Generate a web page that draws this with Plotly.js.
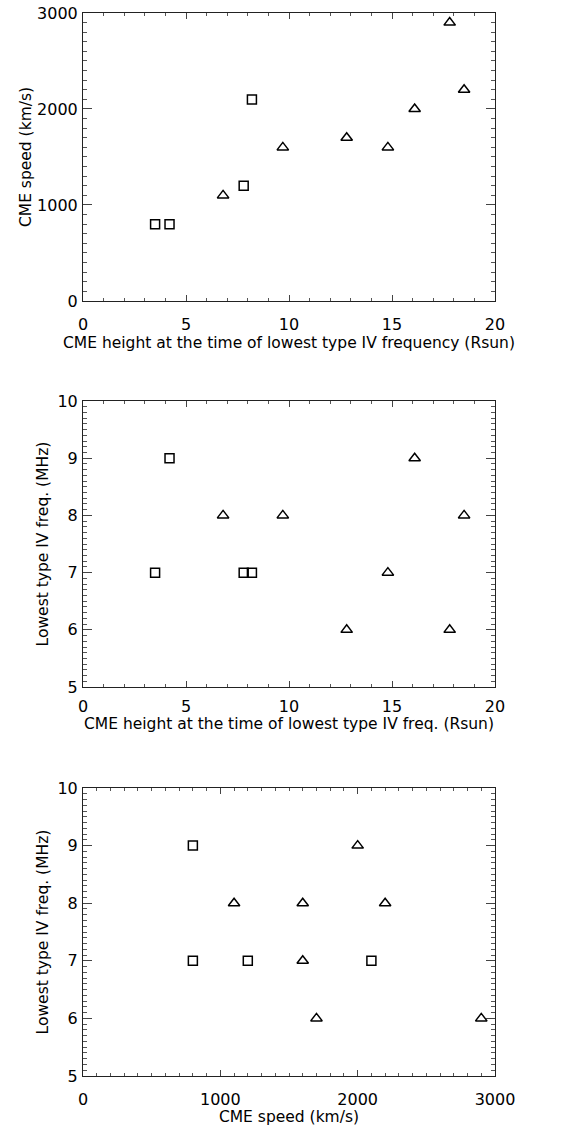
<!DOCTYPE html>
<html>
<head>
<meta charset="utf-8">
<script src="https://cdn.plot.ly/plotly-3.0.1.min.js"></script>
<style>html,body{margin:0;padding:0;background:#fff;}#chart{width:561px;height:1126px;}</style>
</head>
<body>
<div id="chart"></div>
<script>
// Square-symbol events
const sqHeight = [3.5, 4.2, 7.8, 8.2];
const sqSpeed  = [800, 800, 1200, 2100];
const sqFreq   = [7, 9, 7, 7];
// Triangle-symbol events
const triHeight = [6.8, 9.7, 12.8, 14.8, 16.1, 17.8, 18.5];
const triSpeed  = [1100, 1600, 1700, 1600, 2000, 2900, 2200];
const triFreq   = [8, 8, 6, 7, 9, 6, 8];

const xTitle1 = "CME height at the time of lowest type IV frequency (Rsun)";
const yTitle1 = "CME speed (km/s)";
const xTitle2 = "CME height at the time of lowest type IV freq. (Rsun)";
const yTitle2 = "Lowest type IV freq. (MHz)";
const xTitle3 = "CME speed (km/s)";
const yTitle3 = "Lowest type IV freq. (MHz)";

const sqM = {symbol: 'square-open', size: 9, color: '#000', line: {width: 1.5, color: '#000'}};
const trM = {symbol: 'triangle-up-open', size: 10, color: '#000', line: {width: 1.5, color: '#000'}};

function tr(x, y, m, xa, ya) {
  return {x: x, y: y, mode: 'markers', type: 'scatter', marker: m, xaxis: xa, yaxis: ya, hoverinfo: 'none'};
}

const data = [
  tr(sqHeight, sqSpeed, sqM, 'x', 'y'),
  tr(triHeight, triSpeed, trM, 'x', 'y'),
  tr(sqHeight, sqFreq, sqM, 'x2', 'y2'),
  tr(triHeight, triFreq, trM, 'x2', 'y2'),
  tr(sqSpeed, sqFreq, sqM, 'x3', 'y3'),
  tr(triSpeed, triFreq, trM, 'x3', 'y3')
];

const font = {family: 'DejaVu Sans, sans-serif', size: 15.5, color: '#000'};
const tickFont = {family: 'DejaVu Sans, sans-serif', size: 16, color: '#000'};

function ax(range, dtick, minorDtick, len, minorLen, title, standoff, lblStand, anchor, domain) {
  const a = {
    range: range, dtick: dtick, tick0: 0, showgrid: false, zeroline: false,
    showline: true, linecolor: '#222', linewidth: 1, mirror: 'allticks',
    ticks: 'inside', ticklen: len, tickwidth: 1, tickcolor: '#444',
    tickfont: tickFont, ticklabelstandoff: lblStand,
    minor: {dtick: minorDtick, tick0: 0, ticks: 'inside', ticklen: minorLen, tickwidth: 1, tickcolor: '#555', showgrid: false},
    title: {text: title, font: font, standoff: standoff},
    anchor: anchor, fixedrange: true
  };
  if (domain) a.domain = domain;
  return a;
}

const layout = {
  width: 561, height: 1126,
  margin: {l: 83, r: 66, t: 13, b: 50},
  paper_bgcolor: '#fff', plot_bgcolor: '#fff',
  showlegend: false,
  font: font,
  xaxis:  ax([0, 20], 5, 1, 6, 3, xTitle1, 3, 9, 'y'),
  yaxis:  ax([0, 3000], 1000, 100, 9, 4, yTitle1, 1, 1, 'x', [0.7291, 1]),
  xaxis2: ax([0, 20], 5, 1, 6, 3, '', 0, 5, 'y2'),
  yaxis2: ax([5, 10], 1, 0.1, 9, 4, yTitle2, 5, 1, 'x2', [0.3659, 0.6350]),
  xaxis3: ax([0, 3000], 1000, 100, 6, 3, xTitle3, 11, 9, 'y3'),
  yaxis3: ax([5, 10], 1, 0.1, 9, 4, yTitle3, 5, 1, 'x3', [0, 0.2709]),
  annotations: [{
    text: xTitle2, xref: 'x2 domain', yref: 'y2 domain', x: 0.5, y: 0,
    xanchor: 'center', yanchor: 'middle', yshift: -37, showarrow: false, font: font
  }]
};

Plotly.newPlot('chart', data, layout, {staticPlot: true, displayModeBar: false});
</script>
</body>
</html>
